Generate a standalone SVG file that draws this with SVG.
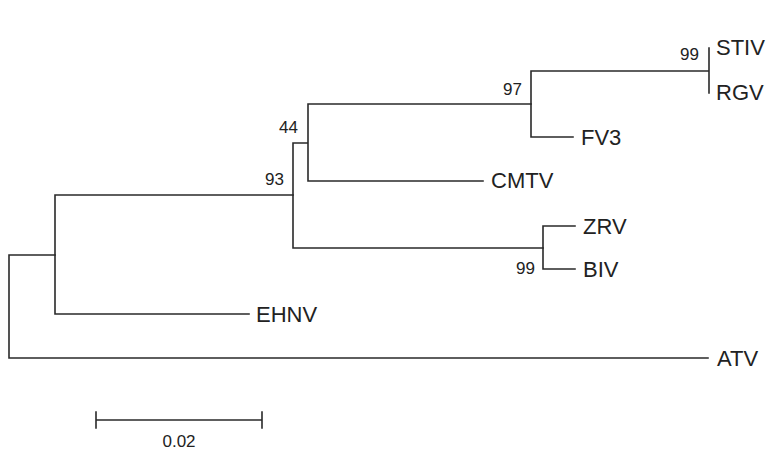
<svg xmlns="http://www.w3.org/2000/svg" width="766" height="462" viewBox="0 0 766 462">
<style>
.e{stroke:#2a2a2a;stroke-width:1.6;fill:none;stroke-linecap:square}
.t{font-family:"Liberation Sans",Arial,sans-serif;font-size:22px;fill:#222}
.b{font-family:"Liberation Sans",Arial,sans-serif;font-size:17px;fill:#222}
</style>
<rect width="766" height="462" fill="#fff"/>
<g id="connectors">
<path class="e" d="M55,255 H9 V358 H708"/>
<path class="e" d="M55,195 V314 H249 M55,195 H293"/>
<path class="e" d="M293,143 V248 H543 M293,143 H308 V104 H531 M308,104 V181 H483"/>
<path class="e" d="M531,71 V137 H573 M531,71 H709 M709,48 V93"/>
<path class="e" d="M543,226 V269 H575 M543,226 H575"/>
<path class="e" d="M96,420 H262 M96,412 V428 M262,412 V428"/>
</g>
<g id="STIV"><text class="t" x="716" y="55">STIV</text></g>
<g id="RGV"><text class="t" x="716" y="100">RGV</text></g>
<g id="FV3"><text class="t" x="581" y="145">FV3</text></g>
<g id="CMTV"><text class="t" x="491" y="188">CMTV</text></g>
<g id="ZRV"><text class="t" x="583" y="234">ZRV</text></g>
<g id="BIV"><text class="t" x="583" y="277">BIV</text></g>
<g id="EHNV"><text class="t" x="256" y="322">EHNV</text></g>
<g id="ATV"><text class="t" x="717" y="366">ATV</text></g>
<g id="bootstrap">
<text class="b" x="699" y="60" text-anchor="end">99</text>
<text class="b" x="522" y="95" text-anchor="end">97</text>
<text class="b" x="298" y="133" text-anchor="end">44</text>
<text class="b" x="284" y="185" text-anchor="end">93</text>
<text class="b" x="535" y="274" text-anchor="end">99</text>
</g>
<g id="scale"><text class="b" x="179" y="447" text-anchor="middle">0.02</text></g>
</svg>
